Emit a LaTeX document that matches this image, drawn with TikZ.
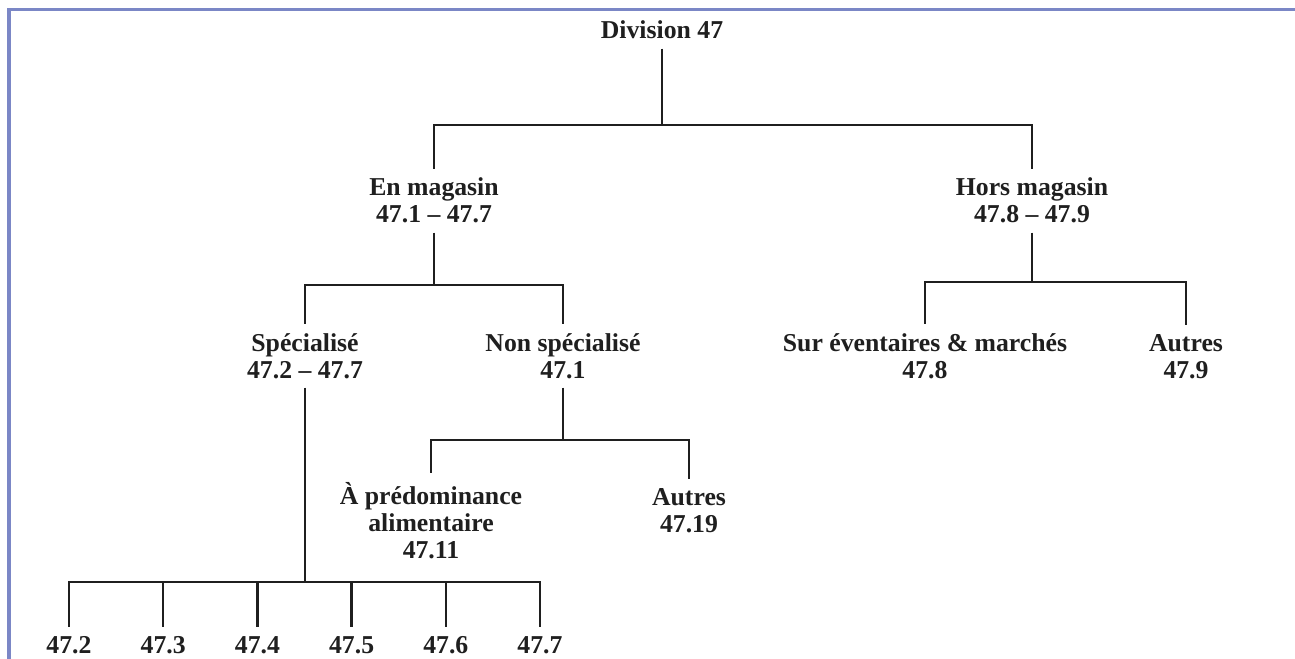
\documentclass[tikz,border=0pt]{standalone}
\usepackage{fontspec}
\setmainfont{Liberation Serif}
\begin{document}
\begin{tikzpicture}
[
 x=0.75pt, y=-0.75pt,
 every node/.style={font=\fontsize{19.3}{20.25}\selectfont\bfseries, text=black!88},
 LABEL/.style={align=center, anchor=base, inner sep=0pt, outer xsep=0pt, outer ysep=7pt},
 CONN/.style={draw=black!88, line width=1.8pt},
 FRAME/.style={draw={rgb,255:red,123;green,135;blue,198}, line width=2.3pt},
 ],
%
\useasboundingbox (0,0) rectangle (1295,659);
\draw [FRAME]  (9,659) -- (9,9.5) -- (1295,9.5);
%
% anchor=base sits on the last line of each label
\node [LABEL]  (DV)   at ( 662,  39)  {Division 47};
\node [LABEL]  (EM)   at ( 434, 223)  {En magasin\\47.1 – 47.7};
\node [LABEL]  (HM)   at (1032, 223)  {Hors magasin\\47.8 – 47.9};
\node [LABEL]  (SP)   at ( 305, 378)  {Spécialisé\\47.2 – 47.7};
\node [LABEL]  (NS)   at ( 563, 378)  {Non spécialisé\\47.1};
\node [LABEL]  (EV)   at ( 925, 378)  {Sur éventaires \& marchés\\47.8};
\node [LABEL]  (HA)   at (1186, 378)  {Autres\\47.9};
\node [LABEL]  (PA)   at ( 431, 558)  {À prédominance\\alimentaire\\47.11};
\node [LABEL]  (NA)   at ( 689, 532)  {Autres\\47.19};
%
\foreach \i in {2,...,7}
   {
     \node [LABEL]  (G\i)   at ( {69+94.2*(\i-2)}, 653)  {47.\i};
   }
%
\coordinate  (J0)  at ( 662, 125);
\coordinate  (J1)  at ( 434, 285);
\coordinate  (J2)  at (1032, 282);
\coordinate  (J3)  at ( 563, 440);
\coordinate  (J4)  at ( 305, 582);
%
\draw [CONN]  (DV)  -- (J0) ;
\draw [CONN]  (EM)  |- (J0) -| (HM) ;
%
\draw [CONN]  (EM)  -- (J1) ;
\draw [CONN]  (SP)  |- (J1) -| (NS) ;
%
\draw [CONN]  (HM)  -- (J2) ;
\draw [CONN]  (EV)  |- (J2) -| (HA) ;
%
\draw [CONN]  (NS)  -- (J3) ;
\draw [CONN]  (PA)  |- (J3) -| (NA) ;
%
\draw [CONN]  (SP)  -- (J4) ;
\foreach \i in {2,...,7}
   {
     \draw [CONN]  (G\i)  |- (J4) ;
   }
\end{tikzpicture}
\end{document}
